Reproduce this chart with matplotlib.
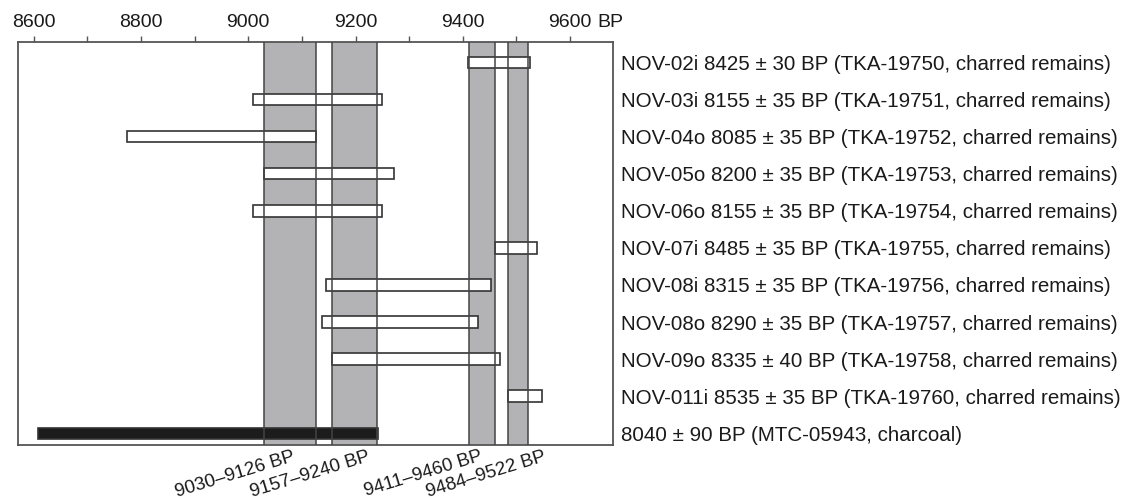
import matplotlib.pyplot as plt

plt.rcParams['font.family'] = ['Liberation Sans', 'DejaVu Sans']

# sample labels, top to bottom
labels = [
    "NOV-02i 8425 ± 30 BP (TKA-19750, charred remains)",
    "NOV-03i 8155 ± 35 BP (TKA-19751, charred remains)",
    "NOV-04o 8085 ± 35 BP (TKA-19752, charred remains)",
    "NOV-05o 8200 ± 35 BP (TKA-19753, charred remains)",
    "NOV-06o 8155 ± 35 BP (TKA-19754, charred remains)",
    "NOV-07i 8485 ± 35 BP (TKA-19755, charred remains)",
    "NOV-08i 8315 ± 35 BP (TKA-19756, charred remains)",
    "NOV-08o 8290 ± 35 BP (TKA-19757, charred remains)",
    "NOV-09o 8335 ± 40 BP (TKA-19758, charred remains)",
    "NOV-011i 8535 ± 35 BP (TKA-19760, charred remains)",
    "8040 ± 90 BP (MTC-05943, charcoal)",
]
# calibrated ranges (cal BP)
cal_lo = [9410, 9009, 8774, 9030, 9009, 9460, 9145, 9137, 9157, 9485, 8608]
cal_hi = [9525, 9249, 9127, 9271, 9249, 9539, 9452, 9429, 9469, 9547, 9242]
is_charcoal = [False] * 10 + [True]

# overlap windows shown as grey bands
band_lo = [9030, 9157, 9411, 9484]
band_hi = [9126, 9240, 9460, 9522]
band_labels = [f"{a}\u2013{b} BP" for a, b in zip(band_lo, band_hi)]
band_label_x = [9081, 9221, 9432, 9549]  # where each rotated label ends

fig = plt.figure(figsize=(11.26, 5.01), dpi=100)
ax = fig.add_axes([0.0163, 0.1118, 0.5284, 0.805])

edge = '#444444'

# grey bands: fill behind the bars, outline on top of them
for lo, hi in zip(band_lo, band_hi):
    ax.axvspan(lo, hi, facecolor='#b3b3b5', edgecolor='none', zorder=1)
    ax.axvline(lo, color=edge, lw=1.1, zorder=3)
    ax.axvline(hi, color=edge, lw=1.1, zorder=3)

rows = list(range(len(labels)))
widths = [h - l for l, h in zip(cal_lo, cal_hi)]
faces = ['#1c1c1c' if c else 'white' for c in is_charcoal]
ax.barh(rows, widths, left=cal_lo, height=0.31, color=faces,
        edgecolor='#333333', linewidth=1.2, zorder=2)

ax.set_xlim(8571, 9681)
ax.set_ylim(len(labels) - 1 + 0.316, -0.56)

# top axis with ticks every 100
ax.xaxis.tick_top()
ax.set_xticks(range(8600, 9601, 200))
ax.set_xticks(range(8700, 9600, 200), minor=True)
ax.tick_params(axis='x', which='both', direction='out', length=4.3, width=1,
               color='#555555', labelsize=14, pad=3.6, labelcolor='#1a1a1a')
ax.annotate("BP", xy=(9600, 1), xycoords=('data', 'axes fraction'),
            xytext=(20, 7.9), textcoords='offset points',
            ha='left', va='bottom', fontsize=14, color='#1a1a1a')

# sample labels on the right
ax.yaxis.tick_right()
ax.set_yticks(rows)
ax.set_yticklabels(labels)
ax.tick_params(axis='y', length=0, pad=5.3, labelsize=14.8, labelcolor='#1a1a1a')

for s in ax.spines.values():
    s.set_color('#555555')
    s.set_linewidth(1.3)

# rotated band labels under the axis
for txt, x in zip(band_labels, band_label_x):
    ax.annotate(txt, xy=(x, 0), xycoords=('data', 'axes fraction'),
                xytext=(0, -2), textcoords='offset points',
                ha='right', va='top', rotation=17, rotation_mode='anchor',
                fontsize=13.5, color='#1a1a1a')

fig.savefig("out.png", dpi=100)
